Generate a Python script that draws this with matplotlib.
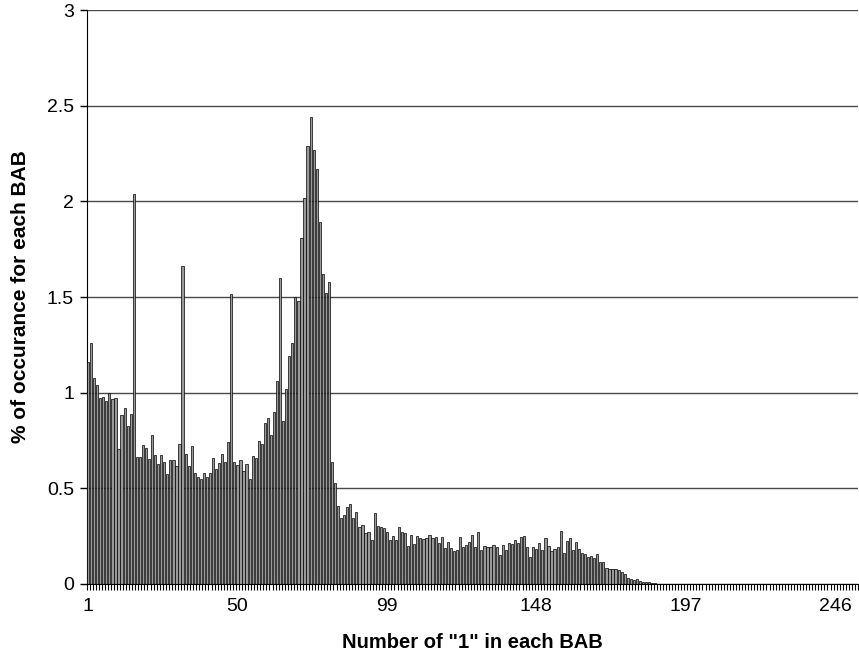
import matplotlib
matplotlib.use('Agg')
import matplotlib.pyplot as plt
import numpy as np

plt.rcParams['font.family'] = ['Liberation Sans', 'DejaVu Sans']

# % of occurrence for each count of "1" (bars 1..186, rest are empty)
pct_head = [
    1.16, 1.26, 1.075, 1.04, 0.97, 0.977, 0.955, 1.0, 0.967, 0.974,
    0.705, 0.883, 0.918, 0.826, 0.887, 2.04, 0.662, 0.662, 0.726, 0.709,
    0.653, 0.777, 0.676, 0.627, 0.674, 0.639, 0.575, 0.65, 0.65, 0.615,
    0.73, 1.664, 0.68, 0.615, 0.72, 0.58, 0.56, 0.55, 0.58, 0.56,
    0.58, 0.66, 0.60, 0.63, 0.68, 0.64, 0.74, 1.514, 0.64, 0.62,
    0.65, 0.59, 0.625, 0.55, 0.67, 0.66, 0.745, 0.73, 0.84, 0.87,
    0.78, 0.90, 1.06, 1.60, 0.85, 1.02, 1.19, 1.26, 1.50, 1.48,
    1.81, 2.02, 2.29, 2.44, 2.27, 2.17, 1.89, 1.62, 1.52, 1.58,
    0.64, 0.53, 0.41,
]
pct_mid = [
    0.345, 0.36, 0.40, 0.42, 0.343, 0.375, 0.298, 0.307, 0.267, 0.273,
    0.228, 0.37, 0.303, 0.30, 0.29, 0.273, 0.23, 0.249, 0.23, 0.30,
    0.273, 0.265, 0.199, 0.258, 0.207, 0.249, 0.239, 0.233, 0.239, 0.254,
    0.239, 0.244, 0.213, 0.248, 0.187, 0.220, 0.187, 0.174, 0.178, 0.248,
    0.194, 0.206, 0.220, 0.258, 0.194, 0.274, 0.176, 0.199, 0.192, 0.192,
    0.204, 0.194, 0.150, 0.204, 0.176, 0.213, 0.209, 0.232, 0.216, 0.246,
    0.249, 0.194, 0.141, 0.194, 0.183, 0.213, 0.178, 0.241, 0.199,
]
pct_tail = [
    0.173, 0.182, 0.194, 0.275, 0.161, 0.225, 0.241, 0.176, 0.220, 0.183,
    0.161, 0.155, 0.141, 0.146, 0.136, 0.157, 0.113, 0.113, 0.082, 0.077,
    0.077, 0.080, 0.075, 0.064, 0.052, 0.029, 0.024, 0.021, 0.024, 0.015,
    0.009, 0.010, 0.008, 0.005, 0.003,
]
n_bars = 253
pct = pct_head + pct_mid + pct_tail
pct = pct + [0.0] * (n_bars - len(pct))
categories = np.arange(1, n_bars + 1)

xtick_vals = [1, 50, 99, 148, 197, 246]
ytick_vals = [0, 0.5, 1, 1.5, 2, 2.5, 3]
ytick_labels = ['0', '0.5', '1', '1.5', '2', '2.5', '3']

fig = plt.figure(figsize=(8.59, 6.60), dpi=100)
ax = fig.add_axes([0.1007, 0.1152, 0.8981, 0.8696])

ax.bar(categories, pct, width=0.72, color='#999999', edgecolor='black',
       linewidth=0.5, zorder=3)

ax.set_xlim(0.5, n_bars + 0.5)
ax.set_ylim(0, 3)

# gridlines
ax.set_yticks(ytick_vals)
ax.set_yticklabels(ytick_labels, fontsize=14)
ax.yaxis.grid(True, color='#4a4a4a', linewidth=1.0, zorder=0)
ax.tick_params(axis='y', direction='out', length=5, width=1, pad=4)

# ticks between categories, labels every 49
ax.set_xticks(np.arange(0.5, n_bars + 1, 1.0))
ax.set_xticklabels([])
ax.tick_params(axis='x', which='major', direction='out', length=4, width=0.8)
ax.set_xticks(xtick_vals, minor=True)
ax.set_xticklabels([str(v) for v in xtick_vals], minor=True, fontsize=14)
ax.tick_params(axis='x', which='minor', length=0, pad=10)

for s in ['top', 'right']:
    ax.spines[s].set_visible(False)
ax.spines['left'].set_color('black')
ax.spines['bottom'].set_color('black')
ax.spines['bottom'].set_zorder(4)

ax.set_xlabel('Number of "1" in each BAB', fontsize=14.5, fontweight='bold', labelpad=13)
ax.set_ylabel('% of occurance for each BAB', fontsize=15, fontweight='bold', labelpad=12)

fig.savefig('out.png', dpi=100)
